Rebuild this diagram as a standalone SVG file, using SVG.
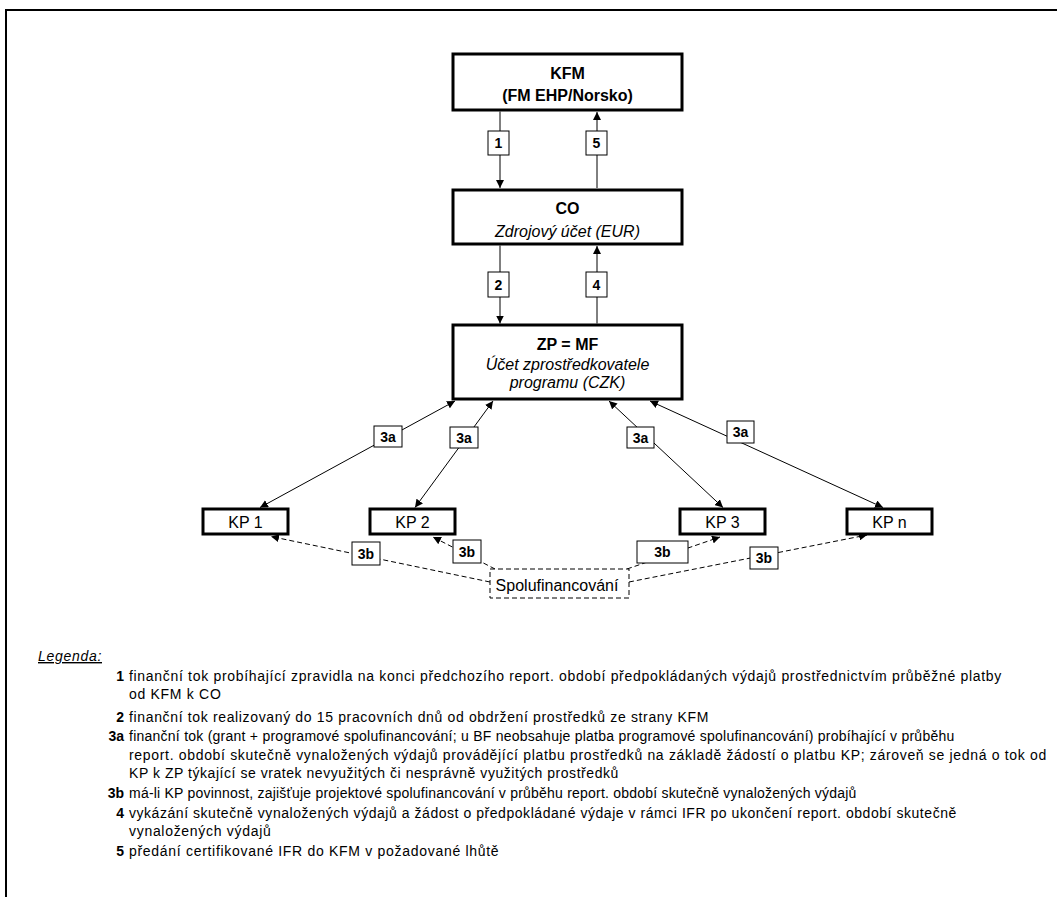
<svg xmlns="http://www.w3.org/2000/svg" width="1057" height="897" viewBox="0 0 1057 897">
<defs>
<marker id="ah" viewBox="0 0 10 10" refX="10" refY="5" markerWidth="8" markerHeight="8" markerUnits="userSpaceOnUse" orient="auto-start-reverse">
<path d="M0,0 L10,5 L0,10 z" fill="#000"/>
</marker>
<style>
.node{fill:#fff;stroke:#000;stroke-width:3}
.t{font-family:"Liberation Sans",Arial,sans-serif;fill:#000}
.b{font-weight:bold;font-size:16px;text-anchor:middle}
.i{font-style:italic;font-size:16px;text-anchor:middle}
.kp{font-size:16px;text-anchor:middle}
.lbl{fill:#fff;stroke:#000;stroke-width:1}
.lt{font-family:"Liberation Sans",Arial,sans-serif;font-weight:bold;font-size:14px;text-anchor:middle}
.c{fill:none;stroke:#000;stroke-width:1}
.d{fill:none;stroke:#000;stroke-width:1;stroke-dasharray:5,3}
.lg{font-family:"Liberation Sans",Arial,sans-serif;font-size:14px;letter-spacing:0.7px}
.ln{font-family:"Liberation Sans",Arial,sans-serif;font-size:14px;font-weight:bold;text-anchor:end}
</style>
</defs>
<rect width="1057" height="897" fill="#fff"/>
<path d="M6,897 V10 H1057" fill="none" stroke="#000" stroke-width="2"/>

<g id="connectors">
<line class="c" x1="500" y1="111.5" x2="500" y2="188" marker-end="url(#ah)"/>
<line class="c" x1="597" y1="188" x2="597" y2="112" marker-end="url(#ah)"/>
<line class="c" x1="500" y1="245.5" x2="500" y2="323.5" marker-end="url(#ah)"/>
<line class="c" x1="597" y1="323.5" x2="597" y2="246" marker-end="url(#ah)"/>
<line class="c" x1="455" y1="401" x2="260" y2="507.5" marker-start="url(#ah)" marker-end="url(#ah)"/>
<line class="c" x1="493" y1="401" x2="415" y2="507.5" marker-start="url(#ah)" marker-end="url(#ah)"/>
<line class="c" x1="609" y1="401" x2="723" y2="507.5" marker-start="url(#ah)" marker-end="url(#ah)"/>
<line class="c" x1="650" y1="401" x2="883" y2="507.5" marker-start="url(#ah)" marker-end="url(#ah)"/>
<line class="d" x1="490" y1="582" x2="271" y2="536.5" marker-end="url(#ah)"/>
<line class="d" x1="495" y1="569" x2="433" y2="537" marker-end="url(#ah)"/>
<line class="d" x1="627" y1="569" x2="720" y2="537" marker-end="url(#ah)"/>
<line class="d" x1="629" y1="582" x2="867" y2="535" marker-end="url(#ah)"/>
<g id="labels">
<rect class="lbl" x="488" y="131" width="21" height="24"/><text class="lt" x="498.5" y="148">1</text>
<rect class="lbl" x="586" y="131" width="21" height="24"/><text class="lt" x="596.5" y="148">5</text>
<rect class="lbl" x="488" y="272" width="21" height="25"/><text class="lt" x="498.5" y="290">2</text>
<rect class="lbl" x="586" y="272" width="21" height="25"/><text class="lt" x="596.5" y="290">4</text>
<rect class="lbl" x="374" y="426" width="28" height="21"/><text class="lt" x="388" y="442">3a</text>
<rect class="lbl" x="450" y="427" width="28" height="21"/><text class="lt" x="464" y="443">3a</text>
<rect class="lbl" x="627" y="427" width="27" height="21"/><text class="lt" x="640.5" y="443">3a</text>
<rect class="lbl" x="727" y="421" width="27" height="22"/><text class="lt" x="740.5" y="437">3a</text>
<rect class="lbl" x="352" y="542" width="28" height="23"/><text class="lt" x="366" y="558.5">3b</text>
<rect class="lbl" x="453" y="540" width="28" height="23"/><text class="lt" x="467" y="556.5">3b</text>
<rect class="lbl" x="637" y="541" width="51" height="22"/><text class="lt" x="662.5" y="557">3b</text>
<rect class="lbl" x="750" y="547" width="28" height="22"/><text class="lt" x="764" y="563">3b</text>
</g>
</g>

<g id="kfm">
<rect class="node" x="453" y="54" width="229" height="56"/>
<text class="t b" x="567.5" y="79">KFM</text>
<text class="t b" x="567.5" y="101">(FM EHP/Norsko)</text>
</g>
<g id="co">
<rect class="node" x="453" y="190" width="229" height="54"/>
<text class="t b" x="567.5" y="214">CO</text>
<text class="t i" x="567.5" y="237">Zdrojový účet (EUR)</text>
</g>
<g id="zp">
<rect class="node" x="453" y="325" width="229" height="74"/>
<text class="t b" x="567.5" y="350">ZP = MF</text>
<text class="t i" x="567.5" y="370">Účet zprostředkovatele</text>
<text class="t i" x="567.5" y="388">programu (CZK)</text>
</g>
<g id="kp1"><rect class="node" x="203" y="509" width="85" height="25"/><text class="t kp" x="245.5" y="527.5">KP 1</text></g>
<g id="kp2"><rect class="node" x="370" y="509" width="85" height="25"/><text class="t kp" x="412.5" y="527.5">KP 2</text></g>
<g id="kp3"><rect class="node" x="680" y="509" width="85" height="25"/><text class="t kp" x="722.5" y="527.5">KP 3</text></g>
<g id="kpn"><rect class="node" x="847" y="509" width="85" height="25"/><text class="t kp" x="889.5" y="527.5">KP n</text></g>
<g id="spolu">
<rect x="490" y="569" width="139" height="29" fill="#fff" stroke="#000" stroke-width="1" stroke-dasharray="5,3"/>
<text class="t" x="557" y="591" font-size="16" text-anchor="middle">Spolufinancování</text>
</g>

<g id="legend">
<text class="lg" x="38" y="661" font-style="italic" text-decoration="underline">Legenda:</text>
<text class="ln" x="124" y="681">1</text>
<text class="lg" x="129" y="681" textLength="873" lengthAdjust="spacing">finanční tok probíhající zpravidla na konci předchozího report. období předpokládaných výdajů prostřednictvím průběžné platby</text>
<text class="lg" x="129" y="699">od KFM k CO</text>
<text class="ln" x="124" y="722">2</text>
<text class="lg" x="129" y="722" textLength="580" lengthAdjust="spacing">finanční tok realizovaný do 15 pracovních dnů od obdržení prostředků ze strany KFM</text>
<text class="ln" x="124" y="741">3a</text>
<text class="lg" x="129" y="741" textLength="826" lengthAdjust="spacing">finanční tok (grant + programové spolufinancování; u BF neobsahuje platba programové spolufinancování) probíhající v průběhu</text>
<text class="lg" x="129" y="760" textLength="918" lengthAdjust="spacing">report. období skutečně vynaložených výdajů provádějící platbu prostředků na základě žádostí o platbu KP; zároveň se jedná o tok od</text>
<text class="lg" x="129" y="778" textLength="490" lengthAdjust="spacing">KP k ZP týkající se vratek nevyužitých či nesprávně využitých prostředků</text>
<text class="ln" x="124" y="798">3b</text>
<text class="lg" x="129" y="798" textLength="728" lengthAdjust="spacing">má-li KP povinnost, zajišťuje projektové spolufinancování v průběhu report. období skutečně vynaložených výdajů</text>
<text class="ln" x="124" y="818">4</text>
<text class="lg" x="129" y="818" textLength="828" lengthAdjust="spacing">vykázání skutečně vynaložených výdajů a žádost o předpokládané výdaje v rámci IFR po ukončení report. období skutečně</text>
<text class="lg" x="129" y="836">vynaložených výdajů</text>
<text class="ln" x="124" y="856">5</text>
<text class="lg" x="129" y="856">předání certifikované IFR do KFM v požadované lhůtě</text>
</g>
</svg>
